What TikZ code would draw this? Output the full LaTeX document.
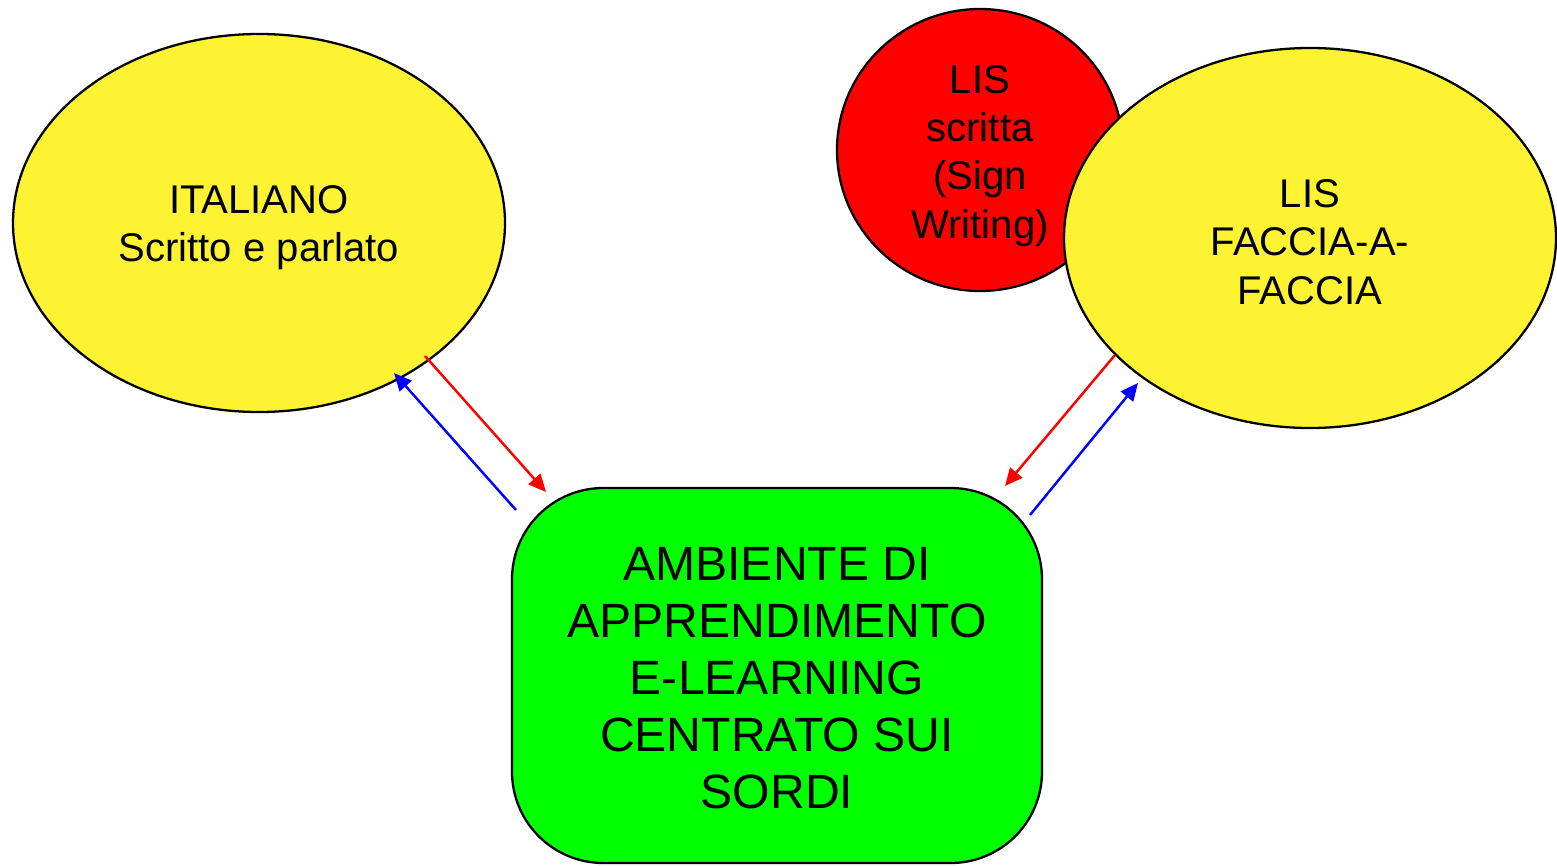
\documentclass[tikz,border=0pt]{standalone}
\usepackage{fontspec}
\setmainfont{Liberation Sans}
\usetikzlibrary{shapes.geometric,arrows.meta}
\definecolor{yel}{HTML}{FDF333}
\definecolor{grn}{HTML}{00FF00}
\definecolor{rd}{HTML}{FF0000}
\definecolor{bl}{HTML}{0000FF}
\begin{document}
\begin{tikzpicture}[x=0.02cm,y=-0.02cm,
  bubble/.style={draw=black,line width=1.3pt,fill=yel},
  lbl/.style={align=center,font=\fontsize{22.8}{27.5}\selectfont},
  big/.style={align=center,font=\fontsize{27.4}{32.5}\selectfont},
  redarrow/.style={draw=rd,line width=1.4pt,-{Triangle[length=10pt,width=9pt]}},
  bluearrow/.style={draw=bl,line width=1.4pt,-{Triangle[length=10pt,width=9pt]}}]
\useasboundingbox (0,0) rectangle (1557,865);
% shapes
\path[bubble] (259,223) ellipse [x radius=246, y radius=189];
\path[draw=black,line width=1.3pt,fill=rd] (980,150) ellipse [x radius=143, y radius=141];
\path[bubble] (1310,238) ellipse [x radius=246, y radius=190];
\path[draw=black,line width=1.3pt,fill=grn,rounded corners=52] (512,488) rectangle (1042,863);
% texts
\node[lbl] (ita) at (259,228) {ITALIANO\\Scritto e parlato};
\node[lbl] (lisw) at (980,156) {LIS\\scritta\\(Sign\\Writing)};
\node[lbl] (lisf) at (1310,242) {LIS\\FACCIA-A-\\FACCIA};
\node[big] (amb) at (777,678) {AMBIENTE DI\\APPRENDIMENTO\\E-LEARNING\\CENTRATO SUI\\SORDI};
% arrow endpoints
\coordinate (a1s) at (425,356); \coordinate (a1e) at (546,492);
\coordinate (b1s) at (516,510); \coordinate (b1e) at (394,373);
\coordinate (a2s) at (1115,355); \coordinate (a2e) at (1005,486);
\coordinate (b2s) at (1030,515); \coordinate (b2e) at (1138,383);
\draw[redarrow] (a1s) -- (a1e);
\draw[bluearrow] (b1s) -- (b1e);
\draw[redarrow] (a2s) -- (a2e);
\draw[bluearrow] (b2s) -- (b2e);
\end{tikzpicture}
\end{document}
